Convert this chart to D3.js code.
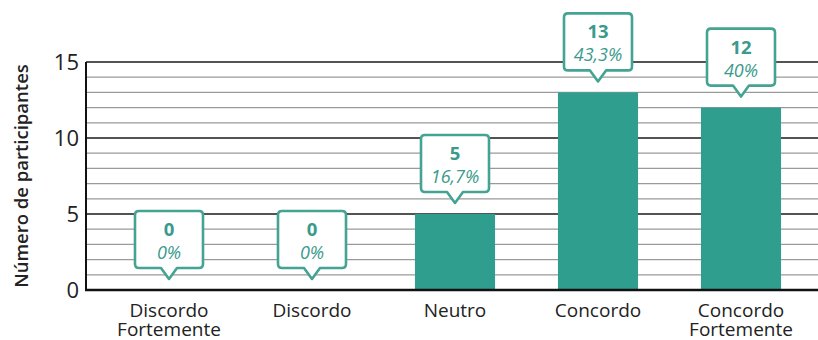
<!DOCTYPE html>
<html><head><meta charset="utf-8">
<script src="https://cdn.jsdelivr.net/npm/d3@7"></script>
<style>body{margin:0;background:#fff}svg{display:block;font-family:"Open Sans",sans-serif}</style>
</head><body><svg id="c" width="818" height="340"></svg>
<script>
const categories = [["Discordo","Fortemente"],["Discordo"],["Neutro"],["Concordo"],["Concordo","Fortemente"]];
const values = [0, 0, 5, 13, 12];
const percents = ["0%", "0%", "16,7%", "43,3%", "40%"];
const yTicks = [0, 5, 10, 15];
const yLabel = "Número de participantes";

const svg = d3.select("#c");
const teal = "#2f9e8f", tealLine = "#45a393", tealText = "#3a9a8b";
const x0 = 86, xEnd = 818;
const x = d3.scaleBand().domain(d3.range(categories.length)).range([97.5, 812.5]).paddingInner(0.44).paddingOuter(0.22);
const y = d3.scaleLinear().domain([0, 15]).range([290, 62]);

// grid
const g = svg.append("g");
d3.range(1, 16).forEach(v => {
  const major = v % 5 === 0;
  g.append("line").attr("x1", x0).attr("x2", xEnd).attr("y1", y(v)).attr("y2", y(v))
    .attr("stroke", major ? "#1a1a1a" : "#9a9a9a").attr("stroke-width", major ? 1.4 : 1.3);
});

// bars
svg.selectAll("rect.bar").data(values).join("rect").attr("class","bar")
  .attr("x", (d,i) => x(i)).attr("width", x.bandwidth())
  .attr("y", d => y(d)).attr("height", d => y(0) - y(d)).attr("fill", teal);

// axes lines
svg.append("line").attr("x1", x0).attr("x2", x0).attr("y1", y(15)).attr("y2", y(0)+1).attr("stroke","#111").attr("stroke-width",2);
svg.append("line").attr("x1", x0-1).attr("x2", xEnd).attr("y1", y(0)).attr("y2", y(0)).attr("stroke","#111").attr("stroke-width",2.5);

// y ticks
svg.selectAll("text.yt").data(yTicks).join("text").attr("class","yt")
  .attr("x", 79).attr("y", d => y(d)).attr("dy","0.36em").attr("text-anchor","end")
  .attr("font-size", 22).attr("fill","#222").text(d => d);

// y label
svg.append("text").attr("transform","translate(28,176) rotate(-90)").attr("text-anchor","middle")
  .attr("font-size", 18.5).attr("font-weight","600").attr("fill","#222").text(yLabel);

// x labels
categories.forEach((lines, i) => {
  const t = svg.append("text").attr("x", x(i) + x.bandwidth()/2).attr("y", 317).attr("text-anchor","middle")
    .attr("font-size", 19).attr("fill","#222");
  lines.forEach((l, j) => t.append("tspan").attr("x", x(i) + x.bandwidth()/2).attr("dy", j ? 19 : 0).text(l));
});

// callouts
values.forEach((v, i) => {
  const cx = x(i) + x.bandwidth()/2;
  const tip = y(v) - 11;
  const bh = 57, bw = 68, ph = 11, pw = 8, r = 4;
  const bt = tip - ph - bh, bb = tip - ph, bl = cx - bw/2, br = cx + bw/2;
  const p = d3.path();
  p.moveTo(bl + r, bt); p.lineTo(br - r, bt); p.quadraticCurveTo(br, bt, br, bt + r);
  p.lineTo(br, bb - r); p.quadraticCurveTo(br, bb, br - r, bb);
  p.lineTo(cx + pw, bb); p.lineTo(cx, tip); p.lineTo(cx - pw, bb);
  p.lineTo(bl + r, bb); p.quadraticCurveTo(bl, bb, bl, bb - r);
  p.lineTo(bl, bt + r); p.quadraticCurveTo(bl, bt, bl + r, bt); p.closePath();
  svg.append("path").attr("d", p.toString()).attr("fill","#fff").attr("stroke", tealLine).attr("stroke-width", 2.6).attr("stroke-linejoin","round");
  svg.append("text").attr("x", cx).attr("y", bt + 25).attr("text-anchor","middle").attr("font-size", 18.5)
    .attr("font-weight","bold").attr("fill", tealText).text(v);
  svg.append("text").attr("x", cx).attr("y", bt + 48).attr("text-anchor","middle").attr("font-size", 18)
    .attr("font-style","italic").attr("fill", tealText).text(percents[i]);
});
</script></body></html>
